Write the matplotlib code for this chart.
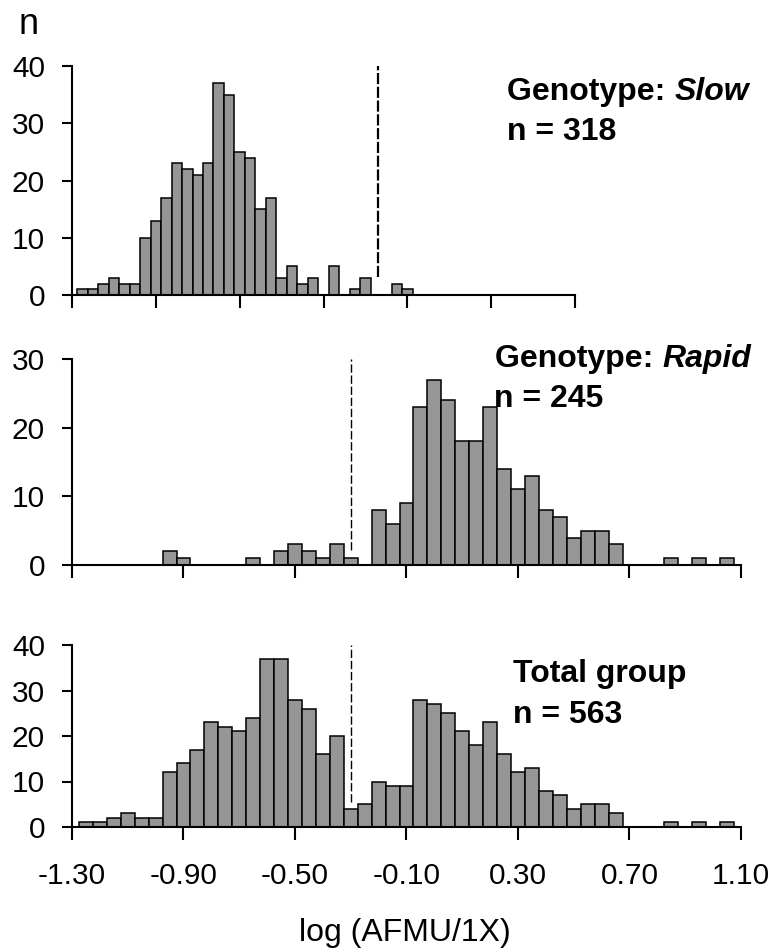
import numpy as np
import matplotlib
matplotlib.use("Agg")
import matplotlib.pyplot as plt

plt.rcParams['font.family'] = ['Liberation Sans', 'DejaVu Sans']
plt.rcParams['axes.unicode_minus'] = False

# bin centres of log(AFMU/1X), 0.05 wide
bin_centers = np.round(np.arange(-1.25, 1.051, 0.05), 2)

slow_counts = [1, 1, 2, 3, 2, 2, 10, 13, 17, 23, 22, 21, 23, 37, 35, 25, 24, 15,
               17, 3, 5, 2, 3, 0, 5, 0, 1, 3, 0, 0, 2, 1, 0, 0, 0, 0, 0, 0, 0,
               0, 0, 0, 0, 0, 0, 0, 0]
rapid_counts = [0, 0, 0, 0, 0, 0, 2, 1, 0, 0, 0, 0, 1, 0, 2, 3, 2, 1, 3, 1, 0,
                8, 6, 9, 23, 27, 24, 18, 18, 23, 14, 11, 13, 8, 7, 4, 5, 5, 3,
                0, 0, 0, 1, 0, 1, 0, 1]
total_counts = [1, 1, 2, 3, 2, 2, 12, 14, 17, 23, 22, 21, 24, 37, 37, 28, 26, 16,
                20, 4, 5, 10, 9, 9, 28, 27, 25, 21, 18, 23, 16, 12, 13, 8, 7, 4,
                5, 5, 3, 0, 0, 0, 1, 0, 1, 0, 1]

xtick_values = [-1.30, -0.90, -0.50, -0.10, 0.30, 0.70, 1.10]
xtick_labels = ["-1.30", "-0.90", "-0.50", "-0.10", "0.30", "0.70", "1.10"]

W, H = 774, 949
fig = plt.figure(figsize=(W / 100, H / 100), dpi=100)


def px_axes(left, right, top, bottom):
    return fig.add_axes([left / W, 1 - bottom / H, (right - left) / W, (bottom - top) / H])


def style(ax, ymax, show_labels):
    ax.set_xlim(-1.30, 1.10)
    ax.set_ylim(0, ymax)
    for s in ("top", "right"):
        ax.spines[s].set_visible(False)
    for s in ("left", "bottom"):
        ax.spines[s].set_linewidth(1.5)
    ax.set_yticks(range(0, ymax + 1, 10))
    ax.set_xticks(xtick_values)
    if show_labels:
        ax.set_xticklabels(xtick_labels)
    else:
        ax.set_xticklabels([])
    ax.tick_params(axis="x", direction="out", length=9.5, width=1.5, pad=16, labelsize=21.5)
    ax.tick_params(axis="y", direction="out", length=7.5, width=1.5, pad=12, labelsize=21.5)
    ax.patch.set_visible(False)


bar_kw = dict(width=0.05, color="#969696", edgecolor="black", linewidth=1.1, zorder=2)

ax1 = px_axes(72, 575, 66, 295)
ax1.bar(bin_centers, slow_counts, **bar_kw)
ax1.vlines(0.16, 3.2, 40, colors="black", linewidth=1.6, linestyles=(0, (5, 1.2)))
style(ax1, 40, False)

ax2 = px_axes(72, 741, 359, 565)
ax2.bar(bin_centers, rapid_counts, **bar_kw)
ax2.vlines(-0.30, 2.2, 30, colors="black", linewidth=1.0, linestyles=(0, (6, 2)))
style(ax2, 30, False)

ax3 = px_axes(72, 741, 645, 827)
ax3.bar(bin_centers, total_counts, **bar_kw)
ax3.vlines(-0.30, 5.5, 40, colors="black", linewidth=1.0, linestyles=(0, (6, 2)))
style(ax3, 40, True)


def ftext(x, y, s, **kw):
    return fig.text(x / W, 1 - y / H, s, va="baseline", **kw)


def two_part(x, y, plain, italic, **kw):
    # bold lead-in, then the genotype name in bold italic right after it
    t = ftext(x, y, plain, **kw)
    fig.canvas.draw()
    bb = t.get_window_extent()
    ftext(bb.x1, y, italic, fontstyle="italic", **kw)


bold = dict(fontsize=23, fontweight="bold")
two_part(507, 100, "Genotype: ", "Slow", **bold)
ftext(507, 140, "n = 318", **bold)

two_part(495, 367, "Genotype: ", "Rapid", **bold)
ftext(494, 407, "n = 245", **bold)

ftext(513, 682, "Total group", **bold)
ftext(513, 723, "n = 563", **bold)

ftext(19, 34, "n", fontsize=26)
ftext(405, 941, "log (AFMU/1X)", fontsize=23, ha="center")

fig.savefig("out.png", dpi=100)
